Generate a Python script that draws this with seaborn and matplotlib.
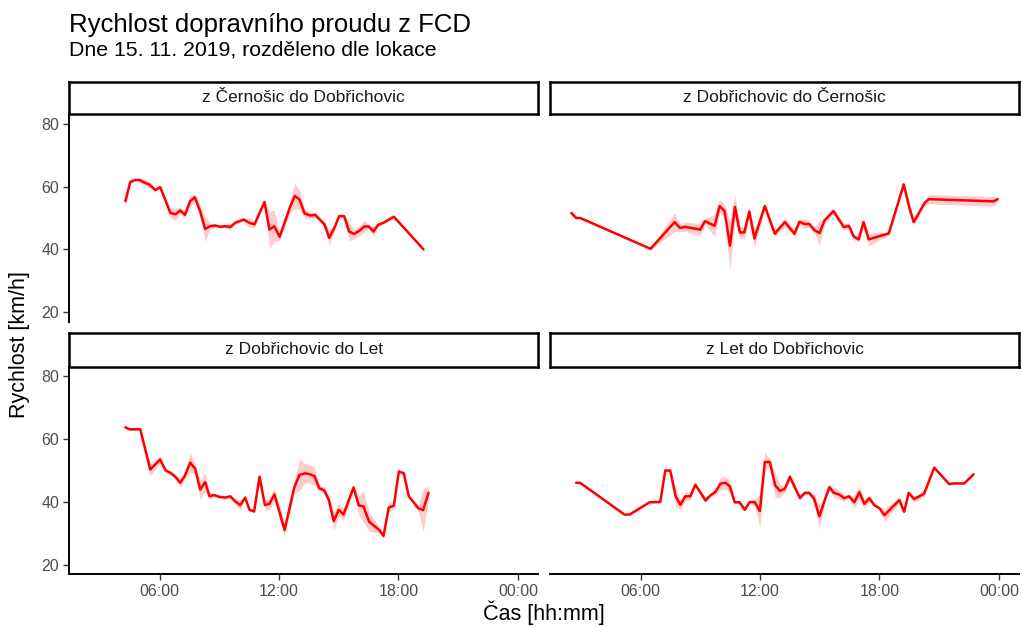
import numpy as np
import pandas as pd
import matplotlib
matplotlib.use("Agg")
import matplotlib.pyplot as plt
import seaborn as sns

# Směry (pořadí panelů: vlevo nahoře, vpravo nahoře, vlevo dole, vpravo dole)
lokace = [
    "z Černošic do Dobřichovic",
    "z Dobřichovic do Černošic",
    "z Dobřichovic do Let",
    "z Let do Dobřichovic",
]

# Čas v hodinách od půlnoci, průměrná rychlost [km/h] a pološířka pásu rozptylu
cas_cd = [4.28, 4.53, 4.78, 5.00, 5.23, 5.50, 5.78, 6.03, 6.28, 6.54, 6.80, 7.04, 7.27,
          7.54, 7.77, 8.04, 8.29, 8.54, 8.80, 9.05, 9.30, 9.55, 9.80, 10.22, 10.50, 10.77,
          11.27, 11.52, 11.76, 12.03, 12.56, 12.79, 13.03, 13.28, 13.56, 13.82, 14.05, 14.28,
          14.52, 14.77, 15.02, 15.27, 15.52, 15.77, 16.03, 16.28, 16.51, 16.74, 16.99, 17.25,
          17.77, 19.26]
rychlost_cd = [55.4, 61.5, 62.1, 62.1, 61.3, 60.6, 58.9, 59.8, 55.9, 51.6, 51.2, 52.4, 51.0,
               55.4, 56.6, 52.1, 46.5, 47.4, 47.6, 47.2, 47.4, 47.1, 48.5, 49.5, 48.5, 48.0,
               55.1, 46.3, 47.4, 44.0, 53.6, 57.0, 55.9, 51.5, 50.8, 51.0, 49.5, 48.0,
               43.7, 46.7, 50.6, 50.6, 45.7, 44.9, 45.9, 47.3, 47.3, 45.7, 47.9, 48.5,
               50.4, 40.0]
rozptyl_cd = [2.5, 0.5, 0.3, 0.5, 1.0, 1.0, 0.5, 0.5, 0.5, 1.5, 2.0, 1.0, 1.0,
              2.0, 1.0, 2.0, 4.0, 1.0, 0.5, 0.5, 0.5, 1.0, 0.5, 0.5, 1.5, 1.0,
              0.5, 6.0, 5.0, 1.0, 2.0, 4.0, 3.0, 1.5, 1.0, 1.0, 0.5, 1.0,
              2.5, 1.0, 0.5, 0.5, 3.0, 1.5, 1.5, 2.0, 0.5, 1.5, 0.5, 0.5,
              0.3, 0.0]

cas_dc = [2.52, 2.77, 2.97, 6.50, 7.71, 7.99, 8.24, 9.00, 9.23, 9.72, 9.97, 10.22, 10.49,
          10.74, 10.99, 11.21, 11.46, 11.72, 12.24, 12.74, 13.25, 13.73, 13.98, 14.23, 14.47,
          14.74, 14.99, 15.24, 15.69, 16.21, 16.46, 16.71, 16.96, 17.20, 17.46, 18.47, 19.22,
          19.51, 19.72, 20.26, 20.48, 23.74, 23.94]
rychlost_dc = [51.6, 50.0, 50.0, 40.2, 48.7, 46.8, 47.2, 46.3, 49.0, 47.5, 53.8, 52.2, 41.2,
               53.5, 45.4, 45.4, 52.0, 43.5, 53.8, 45.0, 48.7, 45.0, 48.8, 48.1, 48.1,
               46.1, 45.2, 49.2, 52.2, 47.1, 47.5, 44.1, 43.2, 48.7, 43.2, 45.1, 60.7,
               53.1, 48.7, 54.7, 56.0, 55.3, 56.0]
rozptyl_dc = [1.0, 0.3, 0.3, 0.3, 3.0, 1.0, 1.5, 2.0, 1.0, 3.5, 2.0, 2.0, 8.0,
              4.0, 2.0, 2.0, 2.0, 3.0, 1.0, 1.0, 1.5, 1.0, 1.0, 1.5, 1.0,
              1.0, 4.0, 1.0, 1.0, 1.0, 1.0, 1.0, 1.0, 1.0, 2.0, 0.5, 0.5,
              2.0, 1.0, 1.0, 1.5, 1.5, 0.5]

cas_dl = [4.28, 4.49, 5.03, 5.53, 6.03, 6.30, 6.54, 6.79, 7.04, 7.26, 7.54, 7.79, 8.04,
          8.29, 8.51, 8.74, 9.01, 9.30, 9.55, 9.80, 10.05, 10.30, 10.52, 10.75, 11.02,
          11.29, 11.52, 11.77, 12.28, 12.76, 13.03, 13.31, 13.56, 13.78, 14.02, 14.27,
          14.50, 14.75, 15.00, 15.24, 15.74, 16.01, 16.24, 16.53, 17.03, 17.25, 17.51,
          17.77, 18.02, 18.27, 18.52, 19.00, 19.24, 19.51]
rychlost_dl = [63.7, 63.1, 63.1, 50.3, 53.5, 50.0, 49.3, 48.0, 46.1, 48.2, 52.5, 50.5, 43.9,
               46.3, 41.8, 42.2, 41.6, 41.4, 41.8, 40.2, 39.0, 41.4, 37.5, 37.0, 48.0,
               39.0, 39.4, 42.4, 31.1, 44.5, 48.6, 49.1, 48.8, 48.2, 44.4, 43.7,
               40.7, 33.9, 37.5, 36.0, 44.6, 38.9, 38.6, 33.7, 31.1, 29.2, 38.2,
               38.8, 49.7, 49.1, 41.8, 38.0, 37.4, 42.9]
rozptyl_dl = [0.5, 0.3, 0.3, 2.0, 1.0, 0.5, 0.5, 0.5, 1.5, 1.0, 3.0, 1.5, 3.0,
              3.0, 1.0, 0.5, 0.5, 0.5, 0.5, 1.0, 1.5, 0.5, 0.5, 0.5, 0.5,
              1.5, 2.0, 2.0, 2.0, 2.0, 5.0, 3.0, 3.0, 3.0, 1.0, 1.0,
              1.5, 3.0, 2.0, 2.0, 1.0, 3.0, 5.0, 3.0, 1.0, 1.0, 1.5,
              1.0, 0.5, 0.5, 0.5, 1.0, 7.0, 2.0]

cas_ld = [2.76, 2.96, 5.19, 5.45, 6.45, 6.99, 7.24, 7.49, 7.76, 8.00, 8.25, 8.50, 8.75,
          9.26, 9.51, 9.76, 10.01, 10.26, 10.48, 10.73, 10.98, 11.23, 11.49, 11.74, 11.99,
          12.24, 12.49, 12.76, 13.00, 13.25, 13.50, 14.00, 14.26, 14.47, 14.72, 14.98,
          15.26, 15.48, 15.71, 15.97, 16.22, 16.47, 16.74, 16.99, 17.24, 17.49, 17.74,
          18.00, 18.25, 19.00, 19.24, 19.47, 19.74, 20.24, 20.75, 21.50, 21.76, 22.26, 22.73]
rychlost_ld = [46.1, 46.1, 36.0, 36.0, 39.9, 40.0, 50.0, 50.0, 41.8, 39.1, 41.8, 41.8, 45.5,
               40.5, 42.1, 43.2, 45.8, 46.1, 45.0, 39.9, 39.9, 37.5, 40.0, 39.9, 37.1,
               52.7, 52.7, 45.3, 43.5, 44.2, 48.0, 41.3, 42.9, 42.9, 41.0, 35.4,
               40.7, 44.7, 42.9, 42.4, 41.2, 41.8, 39.9, 43.1, 39.4, 41.2, 39.0,
               38.0, 35.8, 40.6, 36.9, 42.9, 40.9, 42.6, 50.9, 45.7, 45.9, 45.9, 48.8]
rozptyl_ld = [0.3, 0.3, 0.3, 0.3, 0.3, 0.3, 0.3, 0.3, 3.0, 1.5, 1.5, 1.0, 0.5,
              1.0, 0.5, 1.0, 2.0, 2.0, 2.0, 0.5, 0.5, 0.5, 0.5, 1.0, 5.5,
              3.0, 1.0, 4.0, 2.0, 1.0, 1.0, 1.0, 0.5, 0.5, 1.5, 4.0,
              0.5, 1.0, 1.5, 1.5, 1.0, 0.5, 2.0, 2.0, 1.5, 1.0, 0.5,
              0.5, 2.0, 1.0, 0.5, 0.5, 1.0, 1.0, 0.3, 0.3, 0.3, 0.3, 0.3]

x_ticks = [6, 12, 18, 24]
x_tick_labels = ["06:00", "12:00", "18:00", "00:00"]
y_ticks = [20, 40, 60, 80]

titulek = "Rychlost dopravního proudu z FCD"
podtitulek = "Dne 15. 11. 2019, rozděleno dle lokace"
osa_x = "Čas [hh:mm]"
osa_y = "Rychlost [km/h]"

# Dlouhá tabulka pro všechny směry
serie = [
    (cas_cd, rychlost_cd, rozptyl_cd),
    (cas_dc, rychlost_dc, rozptyl_dc),
    (cas_dl, rychlost_dl, rozptyl_dl),
    (cas_ld, rychlost_ld, rozptyl_ld),
]
frames = []
for name, (c, r, s) in zip(lokace, serie):
    frames.append(pd.DataFrame({"lokace": name, "cas": c, "rychlost": r, "rozptyl": s}))
df = pd.concat(frames, ignore_index=True)
df["dolni"] = df["rychlost"] - df["rozptyl"]
df["horni"] = df["rychlost"] + df["rozptyl"]

sns.set_theme(style="ticks")
plt.rcParams["font.family"] = ["Liberation Sans", "DejaVu Sans"]

W, H = 1022, 627
fig = plt.figure(figsize=(W / 100, H / 100), dpi=100)


def add_px_axes(x0, y0, x1, y1):
    return fig.add_axes([x0 / W, 1 - y1 / H, (x1 - x0) / W, (y1 - y0) / H])


cols = [(69, 538), (550, 1019)]
rows = [((81.7, 114.3), (114.3, 321.7)), ((333.3, 366.7), (366.7, 574.3))]

# Společné měřítko os pro všechny panely
t_min, t_max = df["cas"].min(), df["cas"].max()
t_pad = 0.05 * (t_max - t_min)
xlim = (t_min - t_pad, t_max + t_pad)
ylim = (17, 83)

tick_col = "#333333"
label_col = "#4D4D4D"

for i, name in enumerate(lokace):
    r, c = divmod(i, 2)
    (sy0, sy1), (py0, py1) = rows[r]
    x0, x1 = cols[c]

    ax = add_px_axes(x0, py0, x1, py1)
    sub = df[df["lokace"] == name]
    ax.fill_between(sub["cas"], sub["dolni"], sub["horni"],
                    color="red", alpha=0.2, linewidth=0)
    sns.lineplot(data=sub, x="cas", y="rychlost", color="red", linewidth=1.8,
                 estimator=None, ax=ax)
    ax.set_xlim(xlim)
    ax.set_ylim(ylim)
    ax.set_xlabel("")
    ax.set_ylabel("")
    ax.set_facecolor("white")
    ax.set_xticks(x_ticks)
    ax.set_xticklabels(x_tick_labels)
    ax.set_yticks(y_ticks)
    ax.tick_params(axis="both", colors=tick_col, labelcolor=label_col,
                   labelsize=11.5, length=4, width=1.0, pad=3)

    for sp in ax.spines.values():
        sp.set_visible(False)
    if c == 0:
        ax.spines["left"].set_visible(True)
        ax.spines["left"].set_linewidth(1.4)
        ax.spines["left"].set_color("black")
    else:
        ax.tick_params(axis="y", left=False, labelleft=False)
    if r == 1:
        ax.spines["bottom"].set_visible(True)
        ax.spines["bottom"].set_linewidth(1.4)
        ax.spines["bottom"].set_color("black")
    else:
        ax.tick_params(axis="x", bottom=False, labelbottom=False)

    # Záhlaví panelu
    sax = add_px_axes(x0, sy0, x1, sy1)
    sax.set_xticks([])
    sax.set_yticks([])
    sax.set_facecolor("white")
    for sp in sax.spines.values():
        sp.set_visible(True)
        sp.set_linewidth(1.8)
        sp.set_color("black")
    sax.text(0.5, 0.5, name, ha="center", va="center", fontsize=12.5,
             color="#1A1A1A", transform=sax.transAxes)

fig.text(69 / W, 1 - 32.3 / H, titulek, fontsize=18.5, color="black",
         ha="left", va="baseline")
fig.text(69 / W, 1 - 55.7 / H, podtitulek, fontsize=15.3, color="black",
         ha="left", va="baseline")
fig.text(544 / W, 1 - 613 / H, osa_x, fontsize=15.5, color="black",
         ha="center", va="center")
fig.text(20 / W, 1 - 345 / H, osa_y, fontsize=15.5, color="black",
         ha="center", va="center", rotation=90)

fig.savefig("out.png", dpi=100, facecolor="white")
